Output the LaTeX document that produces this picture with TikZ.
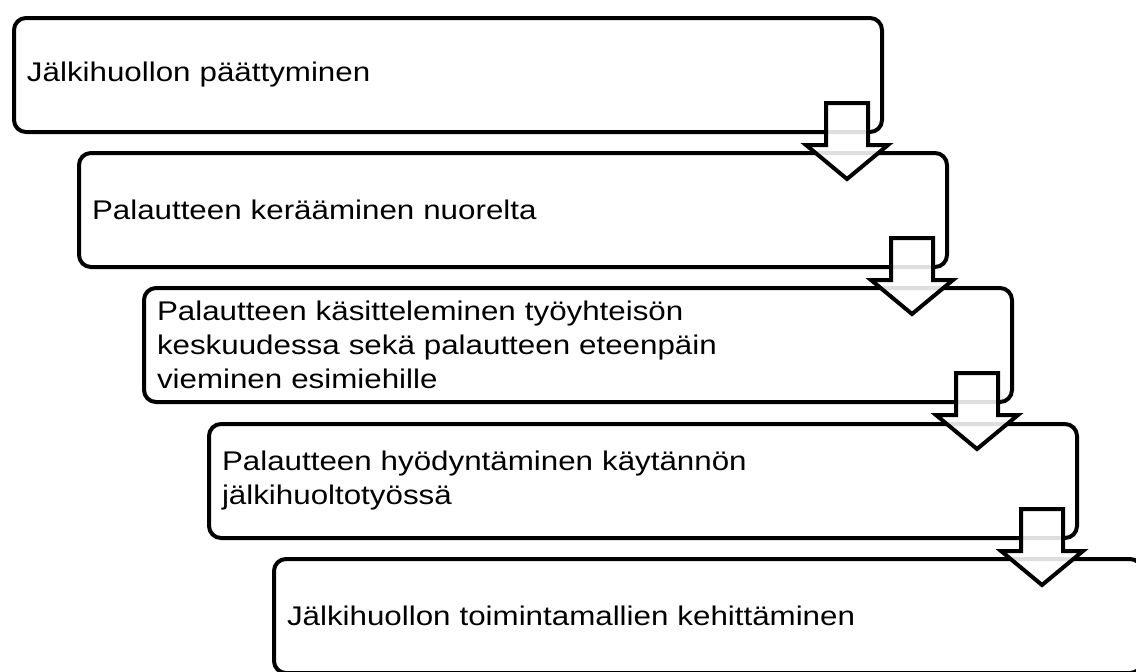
\documentclass[tikz,border=0pt]{standalone}
\usepackage{fontspec}
\setmainfont{Liberation Sans}[FakeStretch=1.16]
\usetikzlibrary{calc}
\begin{document}
\begin{tikzpicture}[x=1pt,y=-1pt,
  stepbox/.style={draw=black, line width=4pt, rounded corners=12pt, fill=white,
    minimum width=868pt, minimum height=114pt, anchor=north west,
    inner xsep=13pt, text width=842pt, align=left,
    font=\fontsize{27}{34}\selectfont},
  blockarrow/.style={draw=black, line width=4pt, fill=white, fill opacity=0.87, line join=miter}]
\useasboundingbox (0,0) rectangle (1136,672);
\clip (0,0) rectangle (1136,672);
\node[stepbox] (b1) at (12,16) {Jälkihuollon päättyminen};
\node[stepbox] (b2) at (77,151) {Palautteen kerääminen nuorelta};
\node[stepbox] (b3) at (142,286) {Palautteen käsitteleminen työyhteisön\\keskuudessa sekä palautteen eteenpäin\\vieminen esimiehille};
\node[stepbox] (b4) at (207,422) {Palautteen hyödyntäminen käytännön\\jälkihuoltotyössä};
\node[stepbox] (b5) at (272,557) {Jälkihuollon toimintamallien kehittäminen};
\foreach \i in {1,2,3,4}{
  \coordinate (a\i) at ($(b\i.south east)+(-37,0)$);
  \begin{scope}[shift={(a\i)}]
    \draw[blockarrow] (-21,-31) -- (21,-31) -- (21,11) -- (41,11) -- (0,45) -- (-41,11) -- (-21,11) -- cycle;
  \end{scope}
}
\end{tikzpicture}
\end{document}
